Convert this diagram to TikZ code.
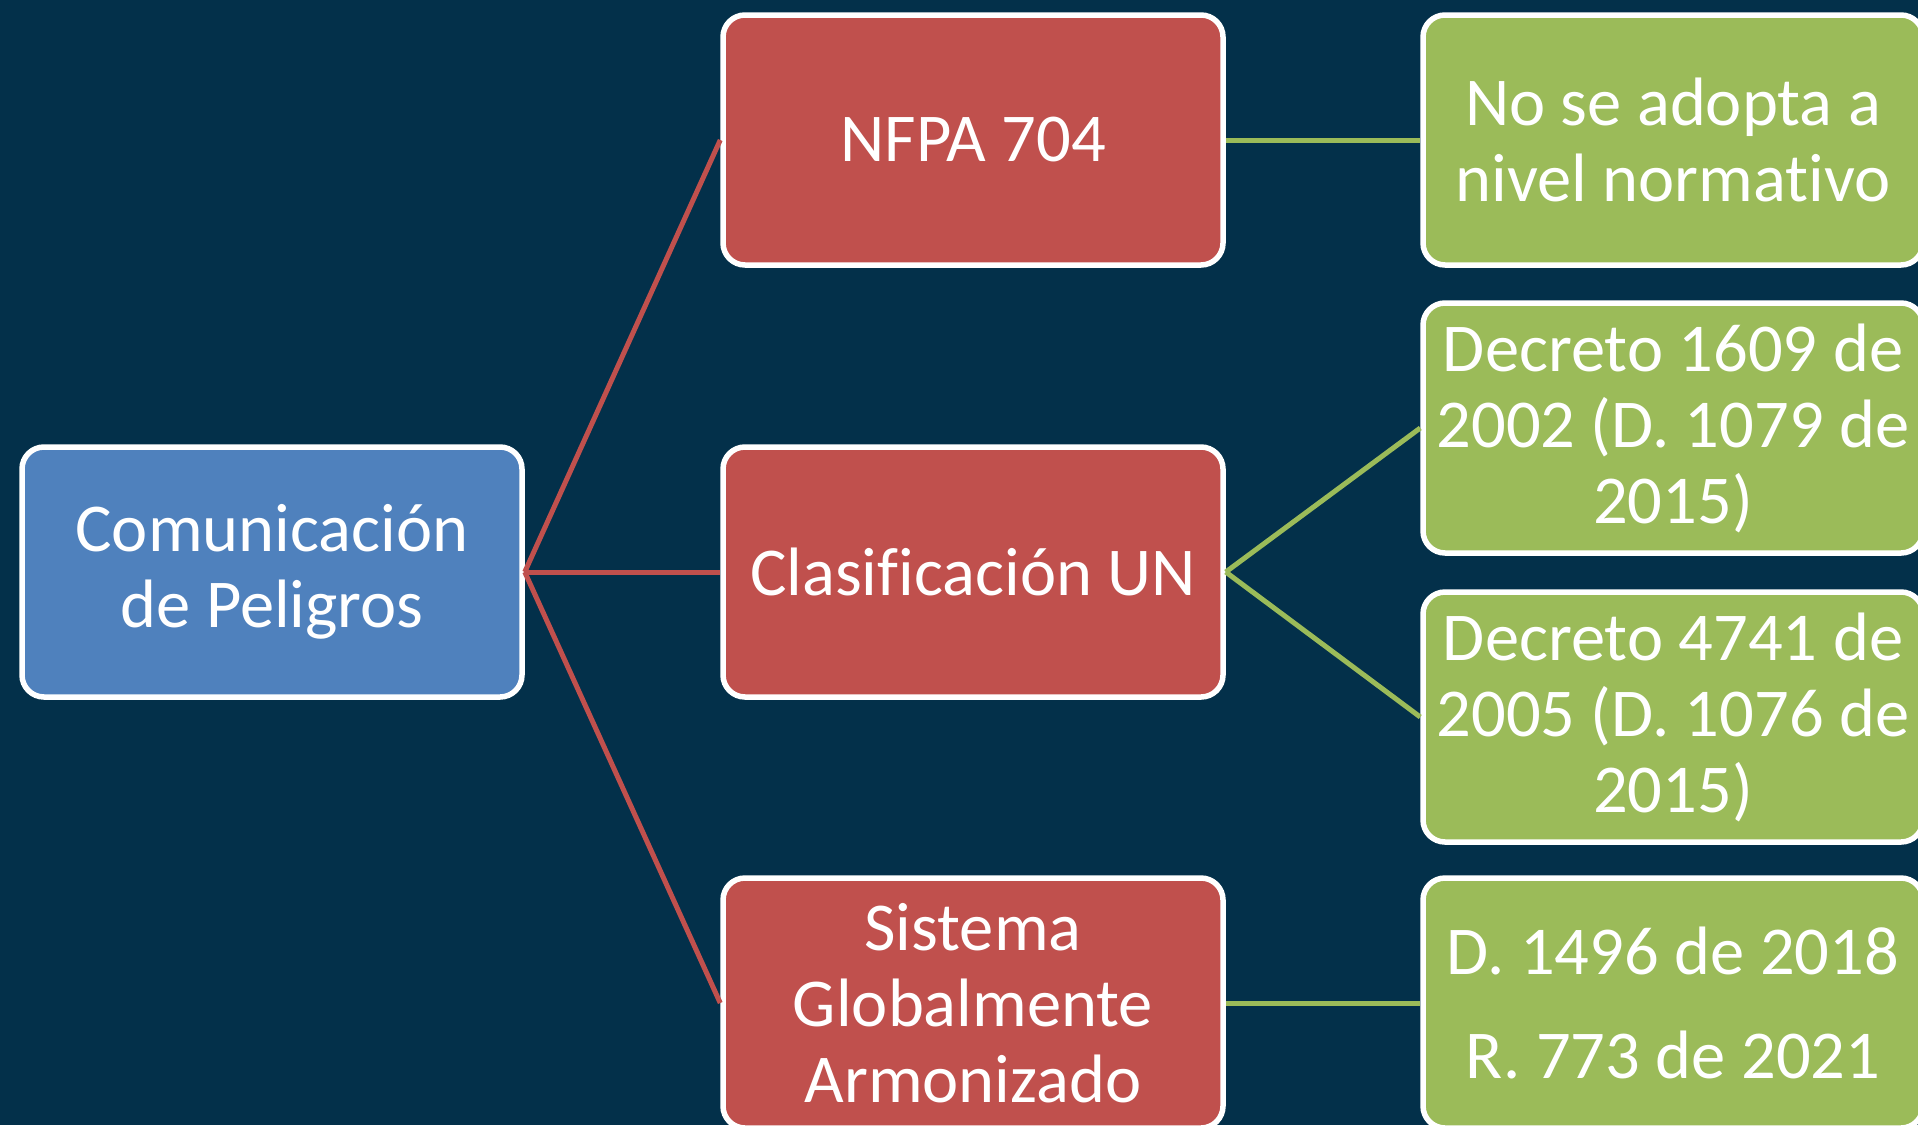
\documentclass[tikz,border=0pt]{standalone}
\usepackage{fontspec}
\setmainfont[Ligatures={NoCommon,NoContextual}]{Carlito}
\definecolor{bgc}{HTML}{03304A}
\definecolor{cblue}{HTML}{4F81BD}
\definecolor{cred}{HTML}{C0504D}
\definecolor{cgreen}{HTML}{9BBB59}
\tikzset{
  box/.style={draw=white, line width=5.5pt, rounded corners=22pt,
    minimum width=500pt, minimum height=250pt, inner sep=0pt,
    text=white, align=center, font=\fontsize{68.5}{76}\selectfont},
  bluebox/.style={box, fill=cblue},
  redbox/.style={box, fill=cred},
  greenbox/.style={box, fill=cgreen},
  redline/.style={draw=cred, line width=5pt},
  greenline/.style={draw=cgreen, line width=5pt}
}
\begin{document}
\begin{tikzpicture}[x=1pt,y=-1pt]
\useasboundingbox (0,0) rectangle (1918,1125);
\fill[bgc] (0,0) rectangle (1918,1125);
\node[bluebox] (root) at (272,572) {Comunicación\\de Peligros};
\node[redbox] (nfpa) at (973,140) {NFPA 704};
\node[redbox] (un) at (973,572) {Clasif\kern0pt icación UN};
\node[redbox] (sga) at (973,1003) {Sistema\\Globalmente\\Armonizado};
\node[greenbox] (g1) at (1673,140) {No se adopta a\\nivel normat\kern0pt ivo};
\node[greenbox] (g2) at (1673,428) {Decreto 1609 de\\2002 (D. 1079 de\\2015)};
\node[greenbox] (g3) at (1673,717) {Decreto 4741 de\\2005 (D. 1076 de\\2015)};
\node[greenbox] (g4) at (1673,1003) {D. 1496 de 2018\\[28pt]R. 773 de 2021};
\draw[redline] (root.east) -- (nfpa.west);
\draw[redline] (root.east) -- (un.west);
\draw[redline] (root.east) -- (sga.west);
\draw[greenline] (nfpa.east) -- (g1.west);
\draw[greenline] (un.east) -- (g2.west);
\draw[greenline] (un.east) -- (g3.west);
\draw[greenline] (sga.east) -- (g4.west);
\end{tikzpicture}
\end{document}
